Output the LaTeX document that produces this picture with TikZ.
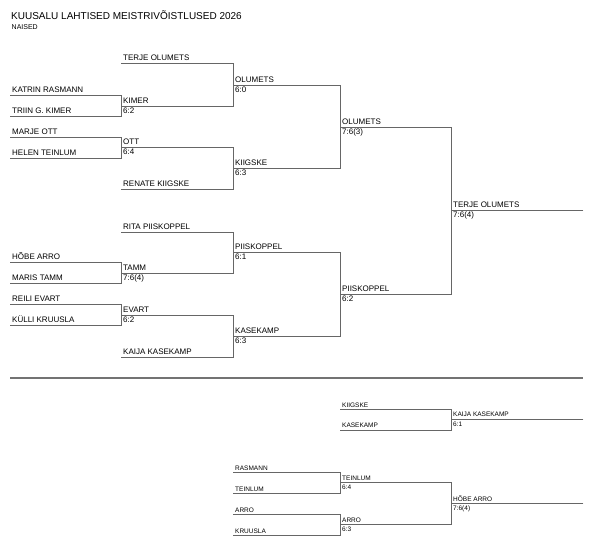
\documentclass[tikz,border=0pt]{standalone}
\usepackage{fontspec}
\setmainfont{Liberation Sans}

\tikzset{
  line/.style={draw=black!60, line width=0.9pt, line cap=rect},
  player/.style={anchor=base west, inner sep=0pt, font=\fontsize{8}{9}\selectfont},
  tiny/.style={anchor=base west, inner sep=0pt, font=\fontsize{6.5}{7.5}\selectfont},
}

\begin{document}
\begin{tikzpicture}[x=1pt,y=-1pt]
  \useasboundingbox (0,0) rectangle (600,545);
  \node[anchor=base west, inner sep=0pt, font=\fontsize{10}{12}\selectfont] (title) at (11,20) {KUUSALU LAHTISED MEISTRIVÕISTLUSED 2026};
  \node[anchor=base west, inner sep=0pt, font=\fontsize{7}{8}\selectfont] (group) at (11.5,30) {NAISED};

  % main draw, first round
  \foreach \n/\y/\who in {a1/95/KATRIN RASMANN, a2/116/TRIIN G. KIMER,
      a3/137/MARJE OTT, a4/158/HELEN TEINLUM, a5/262/HÕBE ARRO,
      a6/283/MARIS TAMM, a7/304/REILI EVART, a8/325/KÜLLI KRUUSLA}{
    \coordinate (\n-l) at (10,\y);
    \coordinate (\n-r) at (121,\y);
    \node[player] (\n-t) at ([shift={(2,-2)}]\n-l) {\who};
  }
  % second round
  \foreach \n/\y/\who/\res in {b1/63/TERJE OLUMETS/, b2/106/KIMER/6:2,
      b3/147/OTT/6:4, b4/189/RENATE KIIGSKE/, b5/232/RITA PIISKOPPEL/,
      b6/273/TAMM/7:6(4), b7/315/EVART/6:2, b8/357/KAIJA KASEKAMP/}{
    \coordinate (\n-l) at (121,\y);
    \coordinate (\n-r) at (233,\y);
    \node[player] (\n-t) at ([shift={(2,-2)}]\n-l) {\who};
    \node[player] (\n-s) at ([shift={(2,7.5)}]\n-l) {\res};
  }
  % quarter finals
  \foreach \n/\y/\who/\res in {c1/85/OLUMETS/6:0, c2/168/KIIGSKE/6:3,
      c3/252/PIISKOPPEL/6:1, c4/336/KASEKAMP/6:3}{
    \coordinate (\n-l) at (233,\y);
    \coordinate (\n-r) at (340,\y);
    \node[player] (\n-t) at ([shift={(2,-2)}]\n-l) {\who};
    \node[player] (\n-s) at ([shift={(2,7.5)}]\n-l) {\res};
  }
  % semi finals
  \foreach \n/\y/\who/\res in {d1/127/OLUMETS/7:6(3), d2/294/PIISKOPPEL/6:2}{
    \coordinate (\n-l) at (340,\y);
    \coordinate (\n-r) at (451,\y);
    \node[player] (\n-t) at ([shift={(2,-2)}]\n-l) {\who};
    \node[player] (\n-s) at ([shift={(2,7.5)}]\n-l) {\res};
  }
  % final
  \coordinate (e1-l) at (451,210);
  \coordinate (e1-r) at (583,210);
  \node[player] (e1-t) at ([shift={(2,-2)}]e1-l) {TERJE OLUMETS};
  \node[player] (e1-s) at ([shift={(2,7.5)}]e1-l) {7:6(4)};

  \foreach \p/\q in {a1/a2, a3/a4, a5/a6, a7/a8, b1/b2, b3/b4, b5/b6,
      b7/b8, c1/c2, c3/c4, d1/d2}
    \path[line] (\p-l) -- (\p-r) -- (\q-r) -- (\q-l);
  \path[line] (e1-l) -- (e1-r);

  % separator
  \coordinate (sep-l) at (10,378);
  \coordinate (sep-r) at (583,378);
  \path[draw=black!55, line width=2pt] (sep-l) -- (sep-r);

  % consolation draws
  \foreach \n/\y/\who in {f1/472/RASMANN, f2/493/TEINLUM,
      f3/514/ARRO, f4/535/KRUUSLA}{
    \coordinate (\n-l) at (233,\y);
    \coordinate (\n-r) at (340,\y);
    \node[tiny] (\n-t) at ([shift={(2,-2)}]\n-l) {\who};
  }
  \foreach \n/\y/\who/\res in {g1/409/KIIGSKE/, g2/430/KASEKAMP/,
      g3/482/TEINLUM/6:4, g4/524/ARRO/6:3}{
    \coordinate (\n-l) at (340,\y);
    \coordinate (\n-r) at (451,\y);
    \node[tiny] (\n-t) at ([shift={(2,-2)}]\n-l) {\who};
    \node[tiny] (\n-s) at ([shift={(2,7)}]\n-l) {\res};
  }
  \foreach \n/\y/\who/\res in {h1/419/KAIJA KASEKAMP/6:1, h2/503/HÕBE ARRO/7:6(4)}{
    \coordinate (\n-l) at (451,\y);
    \coordinate (\n-r) at (583,\y);
    \node[tiny] (\n-t) at ([shift={(2,-2)}]\n-l) {\who};
    \node[tiny] (\n-s) at ([shift={(2,7)}]\n-l) {\res};
    \path[line] (\n-l) -- (\n-r);
  }
  \foreach \p/\q in {f1/f2, f3/f4, g1/g2, g3/g4}
    \path[line] (\p-l) -- (\p-r) -- (\q-r) -- (\q-l);
\end{tikzpicture}
\end{document}
